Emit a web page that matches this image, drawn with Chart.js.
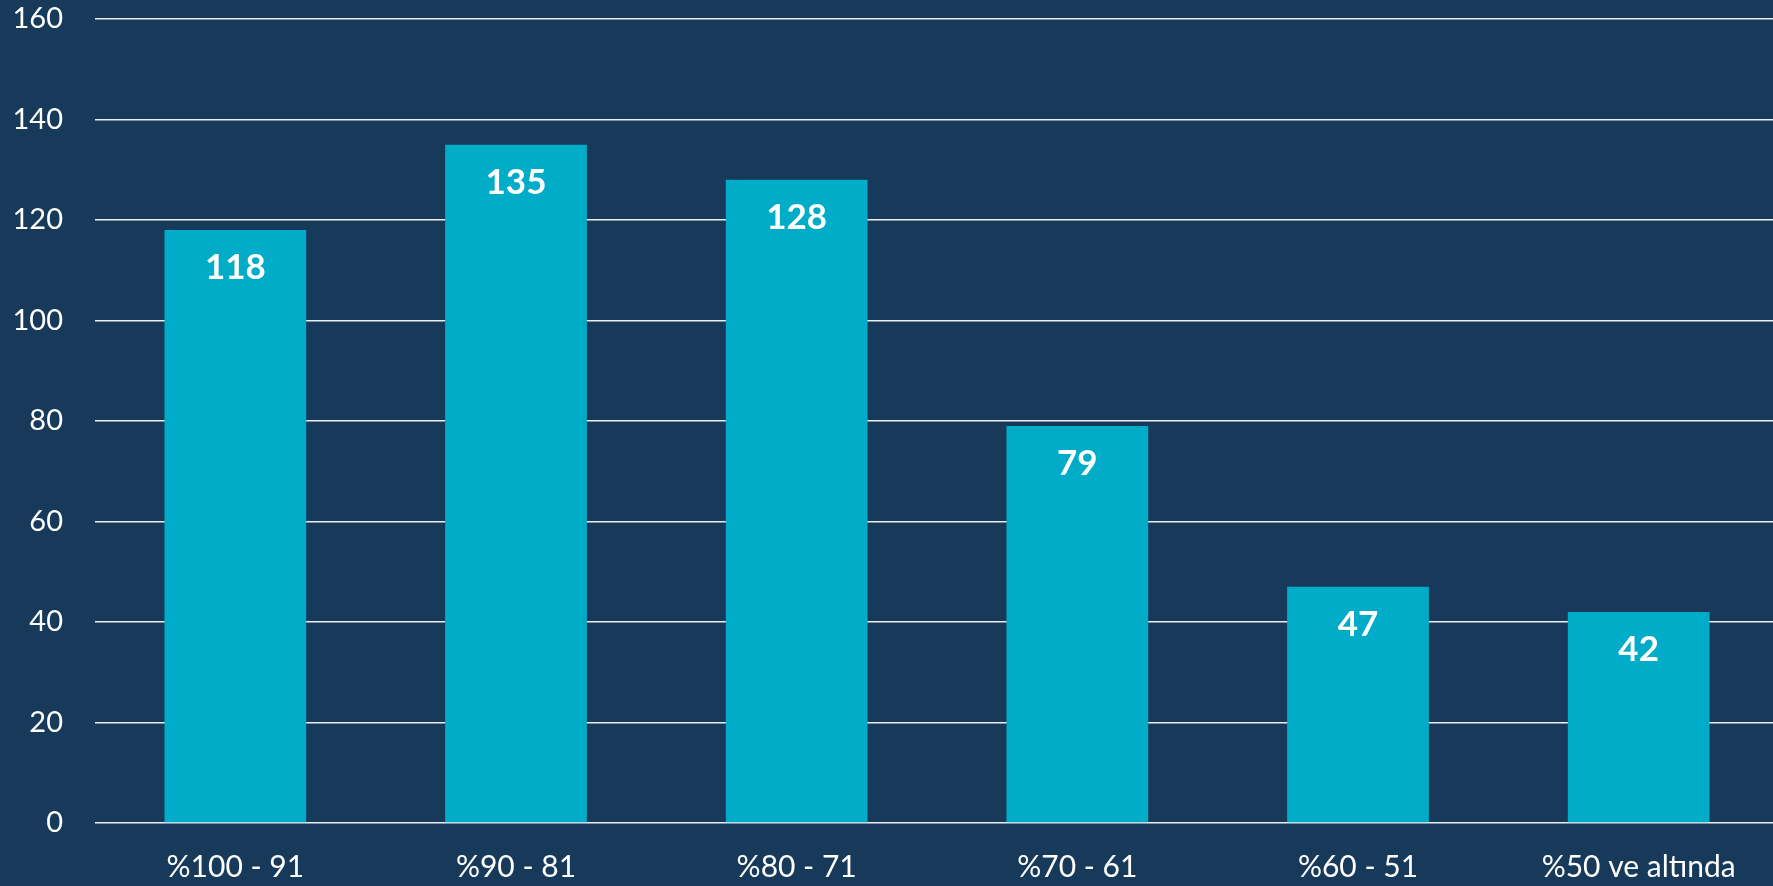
<!DOCTYPE html>
<html>
<head>
<meta charset="utf-8">
<script src="https://cdn.jsdelivr.net/npm/chart.js@4/dist/chart.umd.min.js"></script>
<style>
  html, body { margin: 0; padding: 0; background: #17395a; overflow: hidden; }
  #wrap { width: 1779px; height: 886px; position: relative; }
</style>
</head>
<body>
<div id="wrap"><canvas id="chart"></canvas></div>
<script>
const categories = ['%100 - 91', '%90 - 81', '%80 - 71', '%70 - 61', '%60 - 51', '%50 ve altında']
const counts = [118, 135, 128, 79, 47, 42]
const yTicks = [0, 20, 40, 60, 80, 100, 120, 140, 160]

const fontFamily = 'Lato, "Open Sans", sans-serif'

// writes the value inside the top of each bar
const barValues = {
  id: 'barValues',
  afterDatasetsDraw (chart) {
    const ctx = chart.ctx
    const meta = chart.getDatasetMeta(0)
    ctx.save()
    ctx.fillStyle = '#ffffff'
    ctx.font = 'bold 35px ' + fontFamily
    ctx.textAlign = 'center'
    ctx.textBaseline = 'middle'
    meta.data.forEach((bar, i) => {
      ctx.fillText(String(counts[i]), bar.x, bar.y + 38)
    })
    ctx.restore()
  }
}

new Chart(document.getElementById('chart'), {
  type: 'bar',
  data: {
    labels: categories,
    datasets: [{
      data: counts,
      backgroundColor: '#00acc8',
      barPercentage: 0.505,
      categoryPercentage: 1
    }]
  },
  options: {
    responsive: true,
    maintainAspectRatio: false,
    animation: false,
    layout: { padding: { top: 19, right: 0, left: 0, bottom: 0 } },
    plugins: {
      legend: { display: false },
      tooltip: { enabled: false }
    },
    scales: {
      x: {
        grid: { display: false },
        border: { display: false },
        ticks: {
          color: '#ffffff',
          font: { family: fontFamily, size: 30 },
          padding: 18,
          maxRotation: 0,
          autoSkip: false
        },
        afterFit (scale) {
          scale.height = 63
          scale.paddingLeft = 0
          scale.paddingRight = 0
        }
      },
      y: {
        min: 0,
        max: 160,
        afterBuildTicks (scale) { scale.ticks = yTicks.map(v => ({ value: v })) },
        grid: {
          color: 'rgba(255, 255, 255, 0.92)',
          lineWidth: 1.6,
          drawTicks: false
        },
        border: { display: false },
        ticks: {
          color: '#ffffff',
          font: { family: fontFamily, size: 29 },
          padding: 32
        },
        afterFit (scale) {
          scale.width = 95
          scale.paddingTop = 0
          scale.paddingBottom = 0
        }
      }
    }
  },
  plugins: [barValues]
})
</script>
</body>
</html>
